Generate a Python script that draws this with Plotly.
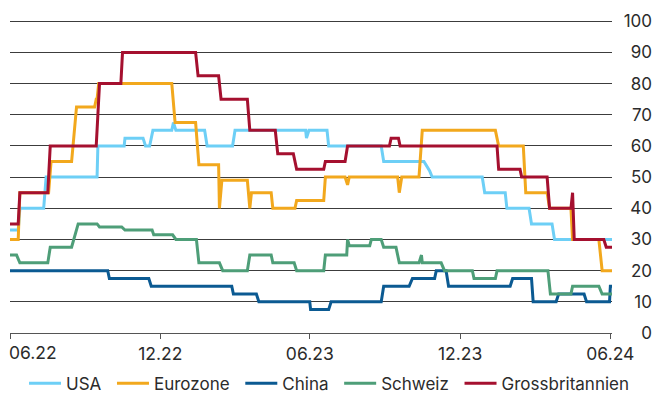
import plotly.graph_objects as go

# Vertices of each step series (date, level in %)
usa_dates = ["2022-06-01", "2022-06-11", "2022-06-13", "2022-07-12", "2022-07-15", "2022-09-15",
             "2022-09-16", "2022-10-18", "2022-10-19", "2022-11-10", "2022-11-13", "2022-11-18",
             "2022-11-22", "2022-12-15", "2022-12-17", "2022-12-20", "2023-01-24", "2023-01-27",
             "2023-02-27", "2023-03-02", "2023-05-27", "2023-05-28", "2023-05-31", "2023-06-22",
             "2023-06-24", "2023-08-27", "2023-08-30", "2023-10-18", "2023-10-25", "2023-10-28",
             "2023-12-28", "2023-12-31", "2024-01-25", "2024-01-27", "2024-02-23", "2024-02-26",
             "2024-03-22", "2024-03-25", "2024-06-03"]
usa_values = [33, 33, 40, 40, 50, 50,
              60, 60, 62.5, 62.5, 60, 60,
              65, 65, 67.5, 65, 65, 60,
              60, 65, 65, 62.5, 65, 65,
              60, 60, 55, 55, 52, 50,
              50, 45, 45, 40, 40, 35,
              35, 30, 30]

eurozone_dates = ["2022-06-01", "2022-06-11", "2022-06-13", "2022-07-18", "2022-07-21", "2022-08-15",
                  "2022-08-21", "2022-09-12", "2022-09-14", "2022-09-15", "2022-09-17", "2022-12-15",
                  "2022-12-19", "2023-01-13", "2023-01-17", "2023-02-10", "2023-02-11", "2023-02-14",
                  "2023-03-17", "2023-03-20", "2023-03-22", "2023-04-15", "2023-04-17", "2023-05-14",
                  "2023-05-16", "2023-06-18", "2023-06-20", "2023-07-14", "2023-07-17", "2023-07-19",
                  "2023-09-16", "2023-09-18", "2023-09-21", "2023-10-12", "2023-10-16", "2024-01-13",
                  "2024-01-17", "2024-02-16", "2024-02-19", "2024-03-16", "2024-03-19", "2024-04-14",
                  "2024-04-16", "2024-05-18", "2024-05-22", "2024-06-03"]
eurozone_values = [30, 30, 45, 45, 55, 55,
                   72.5, 72.5, 75, 75, 80, 80,
                   67.5, 67.5, 54, 54, 40, 49,
                   49, 40, 45, 45, 40, 40,
                   42.5, 42.5, 50, 50, 47.5, 50,
                   50, 45, 50, 50, 65, 65,
                   60, 60, 45, 45, 40, 40,
                   30, 30, 20, 20]

china_dates = ["2022-06-01", "2022-09-28", "2022-09-30", "2022-11-17", "2022-11-20", "2023-02-26",
               "2023-02-28", "2023-03-28", "2023-03-31", "2023-06-01", "2023-06-02", "2023-06-24",
               "2023-06-27", "2023-08-27", "2023-08-30", "2023-09-30", "2023-10-04", "2023-10-31",
               "2023-11-02", "2023-11-14", "2023-11-17", "2024-01-31", "2024-02-03", "2024-02-26",
               "2024-02-28", "2024-03-27", "2024-03-30", "2024-04-30", "2024-05-03", "2024-05-31",
               "2024-06-01", "2024-06-03"]
china_values = [20, 20, 17.5, 17.5, 15, 15,
                12.5, 12.5, 10, 10, 7.5, 7.5,
                10, 10, 15, 15, 17.5, 17.5,
                20, 20, 15, 15, 17.5, 17.5,
                10, 10, 12.5, 12.5, 10, 10,
                15, 15]

schweiz_dates = ["2022-06-01", "2022-06-09", "2022-06-13", "2022-07-17", "2022-07-20", "2022-08-15",
                 "2022-08-23", "2022-09-15", "2022-09-18", "2022-10-15", "2022-10-19", "2022-11-21",
                 "2022-11-23", "2022-12-16", "2022-12-20", "2023-01-14", "2023-01-17", "2023-02-11",
                 "2023-02-15", "2023-03-17", "2023-03-20", "2023-04-15", "2023-04-17", "2023-05-13",
                 "2023-05-16", "2023-06-18", "2023-06-20", "2023-07-16", "2023-07-17", "2023-07-19",
                 "2023-08-13", "2023-08-15", "2023-08-27", "2023-08-30", "2023-09-14", "2023-09-18",
                 "2023-10-12", "2023-10-15", "2023-10-16", "2023-11-08", "2023-11-12", "2023-12-16",
                 "2023-12-18", "2024-01-13", "2024-01-15", "2024-03-17", "2024-03-20", "2024-04-14",
                 "2024-04-16", "2024-05-18", "2024-05-22", "2024-06-03"]
schweiz_values = [25, 25, 22.5, 22.5, 27.5, 27.5,
                  35, 35, 34, 34, 33, 33,
                  31.5, 31.5, 30, 30, 22.5, 22.5,
                  20, 20, 25, 25, 22.5, 22.5,
                  20, 20, 25, 25, 30, 28,
                  28, 30, 30, 27.5, 27.5, 22.5,
                  22.5, 25, 22.5, 22.5, 20, 20,
                  17.5, 17.5, 20, 20, 12.5, 12.5,
                  15, 15, 12.5, 12.5]

gb_dates = ["2022-06-01", "2022-06-11", "2022-06-13", "2022-07-17", "2022-07-20", "2022-09-14",
            "2022-09-16", "2022-09-18", "2022-10-14", "2022-10-16", "2023-01-13", "2023-01-16",
            "2023-02-10", "2023-02-13", "2023-03-17", "2023-03-20", "2023-04-20", "2023-04-23",
            "2023-05-12", "2023-05-16", "2023-06-18", "2023-06-20", "2023-07-14", "2023-07-17",
            "2023-09-06", "2023-09-08", "2023-09-17", "2023-09-19", "2024-01-15", "2024-01-17",
            "2024-02-12", "2024-02-14", "2024-03-16", "2024-03-19", "2024-04-14", "2024-04-16",
            "2024-04-18", "2024-05-24", "2024-05-27", "2024-06-03"]
gb_values = [35, 35, 45, 45, 60, 60,
             70, 80, 80, 90, 90, 82.5,
             82.5, 75, 75, 65, 65, 57.5,
             57.5, 52.5, 52.5, 55, 55, 60,
             60, 62.5, 62.5, 60, 60, 52.5,
             52.5, 50, 50, 40, 40, 45,
             30, 30, 27.5, 27.5]

tick_dates = ["2022-06-01", "2022-12-01", "2023-06-01", "2023-12-01", "2024-06-01"]
tick_labels = ["06.22", "12.22", "06.23", "12.23", "06.24"]
y_ticks = [0, 10, 20, 30, 40, 50, 60, 70, 80, 90, 100]

series = [
    ("USA", usa_dates, usa_values, "#6DCFF6"),
    ("Eurozone", eurozone_dates, eurozone_values, "#F2A81D"),
    ("China", china_dates, china_values, "#0B5A92"),
    ("Schweiz", schweiz_dates, schweiz_values, "#4E9E78"),
    ("Grossbritannien", gb_dates, gb_values, "#A5102F"),
]

fig = go.Figure()
for i, (name, xs, ys, color) in enumerate(series):
    # a narrow space after each legend entry widens the gap to the next one
    label = name if i == len(series) - 1 else name + "\u2004"
    fig.add_trace(go.Scatter(
        x=xs, y=ys, name=label, mode="lines",
        line=dict(color=color, width=3),
        hoverinfo="skip",
    ))

font_family = "Inter, Roboto, sans-serif"
text_color = "#2b2b2b"
tick_font = dict(family=font_family, size=17.5, color=text_color)

# paper spans 10..652 px; the time axis uses the left part, the value labels
# sit right-aligned at the right edge of the paper
paper_w = 667 - 10 - 15
plot_w = 602

# first date label is left-aligned at the start of the axis so it stays on the page
fig.add_annotation(
    x=tick_dates[0], y=0, xref="x", yref="paper",
    text=tick_labels[0], showarrow=False,
    xanchor="left", yanchor="middle", xshift=-3, yshift=-19,
    font=tick_font,
)

fig.update_layout(
    width=667, height=394,
    margin=dict(l=10, r=15, t=20, b=61, autoexpand=False),
    paper_bgcolor="white", plot_bgcolor="white",
    font=dict(family=font_family, size=16, color=text_color),
    showlegend=True,
    legend=dict(
        orientation="h", xref="container", yref="container",
        x=0.036, xanchor="left", y=0.026, yanchor="middle",
        font=dict(size=17, color=text_color),
        itemwidth=32, tracegroupgap=0,
    ),
    xaxis=dict(
        type="date",
        domain=[0, plot_w / paper_w],
        range=["2022-06-01", "2024-06-03"],
        tickvals=tick_dates,
        ticktext=[""] + tick_labels[1:],
        showgrid=False, zeroline=False,
        showline=True, linecolor="#555555", linewidth=1,
        ticks="outside", ticklen=5, tickcolor="#555555", tickwidth=1,
        tickfont=tick_font,
    ),
    yaxis=dict(
        range=[0, 100.4],
        tickvals=y_ticks,
        anchor="free", position=1.0, side="left",
        showgrid=True, gridcolor="#3c3c3c", gridwidth=1,
        zeroline=False, showline=False, ticks="",
        tickfont=dict(family=font_family, size=17, color=text_color),
    ),
)

fig.write_html("out.html")
